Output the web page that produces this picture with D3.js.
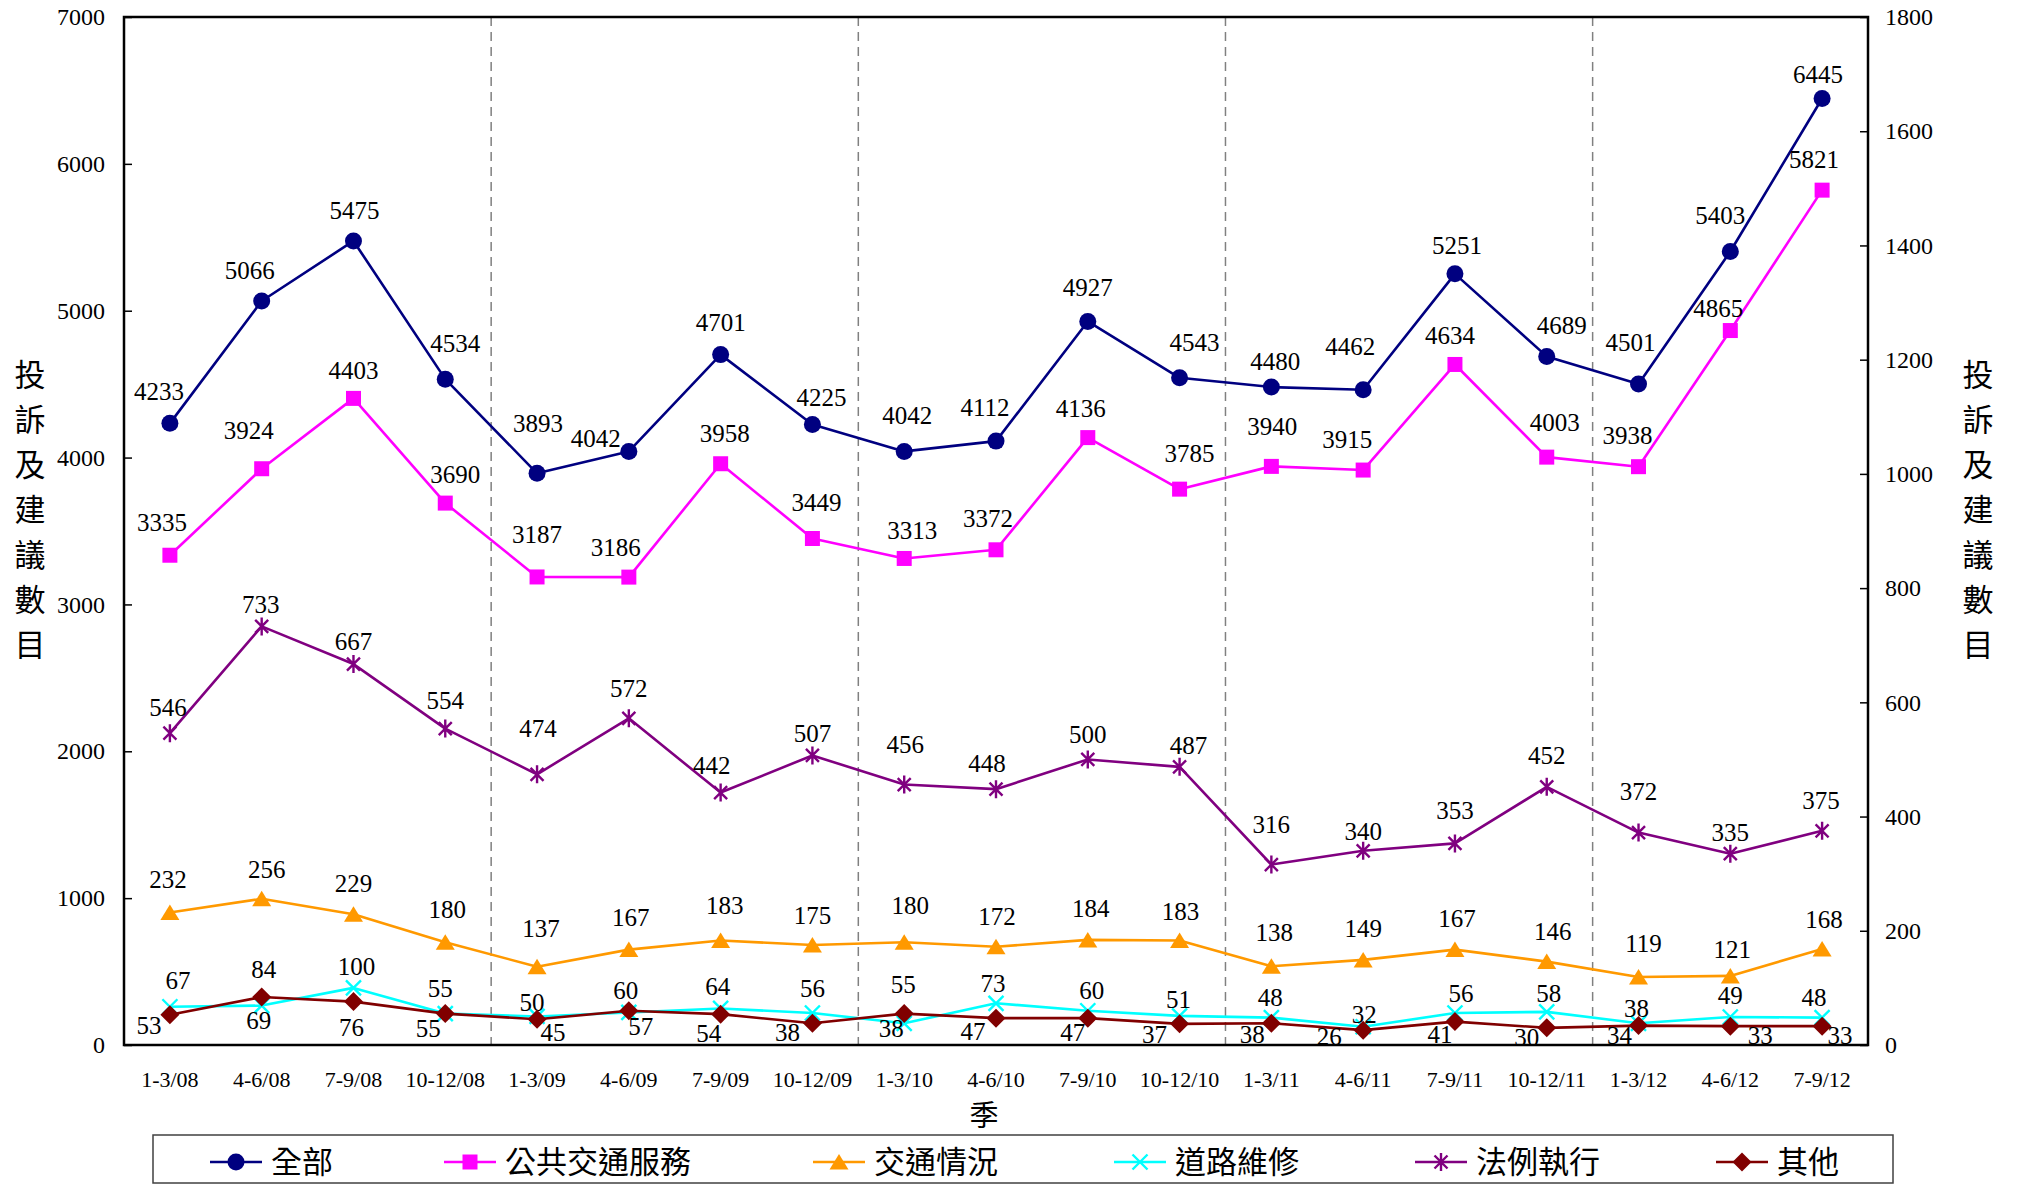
<!DOCTYPE html>
<html>
<head>
<meta charset="utf-8">
<script src="https://cdn.jsdelivr.net/npm/d3@7"></script>
<style>
  html, body { margin: 0; padding: 0; background: #ffffff; }
  svg { display: block; }
</style>
</head>
<body>
<svg id="chart" width="2017" height="1184"></svg>
<script>
// ---- data ----
const quarters = ["1-3/08", "4-6/08", "7-9/08", "10-12/08",
                  "1-3/09", "4-6/09", "7-9/09", "10-12/09",
                  "1-3/10", "4-6/10", "7-9/10", "10-12/10",
                  "1-3/11", "4-6/11", "7-9/11", "10-12/11",
                  "1-3/12", "4-6/12", "7-9/12"];

const seriesNames = ["全部", "公共交通服務", "交通情況", "道路維修", "法例執行", "其他"];

const allCases       = [4233, 5066, 5475, 4534, 3893, 4042, 4701, 4225, 4042, 4112, 4927, 4543, 4480, 4462, 5251, 4689, 4501, 5403, 6445];
const publicTransport = [3335, 3924, 4403, 3690, 3187, 3186, 3958, 3449, 3313, 3372, 4136, 3785, 3940, 3915, 4634, 4003, 3938, 4865, 5821];
const trafficCond    = [232, 256, 229, 180, 137, 167, 183, 175, 180, 172, 184, 183, 138, 149, 167, 146, 119, 121, 168];
const roadMaint      = [67, 69, 100, 55, 50, 57, 64, 56, 38, 73, 60, 51, 48, 32, 56, 58, 38, 49, 48];
const enforcement    = [546, 733, 667, 554, 474, 572, 442, 507, 456, 448, 500, 487, 316, 340, 353, 452, 372, 335, 375];
const others         = [53, 84, 76, 55, 45, 60, 54, 38, 55, 47, 47, 37, 38, 26, 41, 30, 34, 33, 33];

const leftTicks  = [0, 1000, 2000, 3000, 4000, 5000, 6000, 7000];
const rightTicks = [0, 200, 400, 600, 800, 1000, 1200, 1400, 1600, 1800];

const yTitle = "投訴及建議數目";
const xTitle = "季";

// ---- label nudges (px, relative to each point) ----
const nudgeAll = [[-11,-32],[-12,-31],[1,-31],[10,-36],[1,-50],[-33,-13],[0,-32],[9,-27],[3,-36],[-11,-34],
                  [0,-34],[15,-36],[4,-26],[-13,-43],[2,-29],[15,-31],[-8,-42],[-10,-36],[-4,-24]];
const nudgePT  = [[-8,-33],[-13,-38],[0,-28],[10,-29],[0,-43],[-13,-30],[4,-30],[4,-36],[8,-28],[-8,-32],
                  [-7,-29],[10,-36],[1,-40],[-16,-31],[-5,-29],[8,-35],[-11,-31],[-12,-22],[-8,-31]];
const nudgeTC  = [[-2,-33],[5,-30],[0,-31],[2,-33],[4,-39],[2,-32],[4,-35],[0,-30],[6,-37],[1,-31],
                  [3,-32],[1,-29],[3,-34],[0,-32],[2,-31],[6,-30],[5,-34],[2,-27],[2,-30]];
const nudgeRM  = [[8,-26],[-3,15],[3,-22],[-5,-25],[-5,-14],[12,14],[-3,-22],[0,-25],[-13,5],[-3,-20],
                  [4,-20],[-1,-17],[-1,-20],[1,-12],[6,-20],[2,-19],[-2,-15],[0,-22],[-8,-20]];
const nudgeEN  = [[-2,-26],[-1,-22],[0,-23],[0,-28],[1,-46],[0,-30],[-9,-27],[0,-22],[1,-40],[-9,-26],
                  [0,-25],[9,-22],[0,-40],[0,-20],[0,-33],[0,-32],[0,-41],[0,-21],[-1,-31]];
const nudgeOT  = [[-21,11],[2,-28],[-2,26],[-17,15],[16,13],[-3,-20],[-12,19],[-25,9],[-1,-29],[-23,13],
                  [-15,14],[-25,10],[-19,11],[-34,6],[-15,13],[-20,9],[-19,10],[30,9],[18,9]];

// ---- layout ----
const plot = { left: 124, right: 1868, top: 17, bottom: 1045 };
const serif = "'Liberation Serif', 'Times New Roman', serif";
const cjk = "'Noto Sans CJK TC', 'Noto Sans CJK SC', sans-serif";

const svg = d3.select("#chart");

const x = d3.scaleBand().domain(quarters).range([plot.left, plot.right]).padding(0);
const cx = q => x(q) + x.bandwidth() / 2;
const yL = d3.scaleLinear().domain([0, 7000]).range([plot.bottom, plot.top]);
const yR = d3.scaleLinear().domain([0, 1800]).range([plot.bottom, plot.top]);

// marker shapes, centred on the point
const markers = {
  circle:   { d: d3.symbol(d3.symbolCircle, Math.PI * 8.5 * 8.5)(), fill: true },
  square:   { d: "M-7.5,-7.5H7.5V7.5H-7.5Z", fill: true },
  triangle: { d: "M0,-8L9.5,7.5H-9.5Z", fill: true },
  cross:    { d: "M-7.5,-7.5L7.5,7.5M7.5,-7.5L-7.5,7.5", fill: false },
  asterisk: { d: "M-6.5,-6.5L6.5,6.5M6.5,-6.5L-6.5,6.5M0,-9V9", fill: false },
  diamond:  { d: "M0,-9.5L9.5,0L0,9.5L-9.5,0Z", fill: true }
};

const series = [
  { name: seriesNames[0], values: allCases,        y: yL, color: "#000080", marker: "circle",   nudge: nudgeAll },
  { name: seriesNames[1], values: publicTransport, y: yL, color: "#FF00FF", marker: "square",   nudge: nudgePT },
  { name: seriesNames[2], values: trafficCond,     y: yR, color: "#FF9900", marker: "triangle", nudge: nudgeTC },
  { name: seriesNames[3], values: roadMaint,       y: yR, color: "#00FFFF", marker: "cross",    nudge: nudgeRM },
  { name: seriesNames[4], values: enforcement,     y: yR, color: "#800080", marker: "asterisk", nudge: nudgeEN },
  { name: seriesNames[5], values: others,          y: yR, color: "#800000", marker: "diamond",  nudge: nudgeOT }
];

// year separators (dashed)
svg.append("g").selectAll("line")
  .data(quarters.filter((q, i) => i > 0 && q.startsWith("1-3/")))
  .join("line")
  .attr("x1", q => x(q)).attr("x2", q => x(q))
  .attr("y1", plot.top).attr("y2", plot.bottom)
  .attr("stroke", "#808080").attr("stroke-width", 1.5)
  .attr("stroke-dasharray", "9,6");

// left axis
const gL = svg.append("g")
  .attr("transform", `translate(${plot.left},0)`)
  .call(d3.axisLeft(yL).tickValues(leftTicks).tickSize(-8).tickPadding(19).tickFormat(d3.format("d")));
gL.select(".domain").remove();
gL.selectAll(".tick line").attr("stroke", "#000").attr("stroke-width", 1.5);
gL.selectAll(".tick text").attr("font-family", serif).attr("font-size", 24).attr("fill", "#000");

// right axis
const gR = svg.append("g")
  .attr("transform", `translate(${plot.right},0)`)
  .call(d3.axisRight(yR).tickValues(rightTicks).tickSize(-8).tickPadding(17).tickFormat(d3.format("d")));
gR.select(".domain").remove();
gR.selectAll(".tick line").attr("stroke", "#000").attr("stroke-width", 1.5);
gR.selectAll(".tick text").attr("font-family", serif).attr("font-size", 24).attr("fill", "#000");

// category axis
const gB = svg.append("g")
  .attr("transform", `translate(0,${plot.bottom})`)
  .call(d3.axisBottom(x).tickSize(0).tickPadding(0));
gB.select(".domain").remove();
gB.selectAll(".tick text")
  .attr("y", 34).attr("dy", "0.35em")
  .attr("font-family", serif).attr("font-size", 22).attr("fill", "#000");

// plot frame
svg.append("rect")
  .attr("x", plot.left).attr("y", plot.top)
  .attr("width", plot.right - plot.left).attr("height", plot.bottom - plot.top)
  .attr("fill", "none").attr("stroke", "#000").attr("stroke-width", 2.5);

// series lines, markers and value labels
series.forEach(s => {
  const g = svg.append("g");
  const line = d3.line().x((v, i) => cx(quarters[i])).y(v => s.y(v));
  g.append("path").datum(s.values)
    .attr("d", line).attr("fill", "none")
    .attr("stroke", s.color).attr("stroke-width", 2.6).attr("stroke-linejoin", "round");
  const m = markers[s.marker];
  g.selectAll("path.mk").data(s.values).join("path")
    .attr("class", "mk")
    .attr("transform", (v, i) => `translate(${cx(quarters[i])},${s.y(v)})`)
    .attr("d", m.d)
    .attr("fill", m.fill ? s.color : "none")
    .attr("stroke", s.color).attr("stroke-width", m.fill ? 0 : 2.4);
  g.selectAll("text").data(s.values).join("text")
    .attr("x", (v, i) => cx(quarters[i]) + s.nudge[i][0])
    .attr("y", (v, i) => s.y(v) + s.nudge[i][1])
    .attr("dy", "0.35em")
    .attr("text-anchor", "middle")
    .attr("font-family", serif).attr("font-size", 25).attr("fill", "#000")
    .text(v => v);
});

// axis titles (vertical stacked characters)
[30, 1978].forEach(tx => {
  svg.append("g").selectAll("text")
    .data(Array.from(yTitle))
    .join("text")
    .attr("x", tx).attr("y", (c, i) => 375 + i * 45)
    .attr("dy", "0.35em").attr("text-anchor", "middle")
    .attr("font-family", cjk).attr("font-size", 31).attr("fill", "#000")
    .text(c => c);
});

svg.append("text")
  .attr("x", 984).attr("y", 1116).attr("dy", "0.35em").attr("text-anchor", "middle")
  .attr("font-family", cjk).attr("font-size", 29).attr("fill", "#000")
  .text(xTitle);

// legend
const legendBox = { x: 153, y: 1135, w: 1740, h: 48 };
svg.append("rect")
  .attr("x", legendBox.x).attr("y", legendBox.y)
  .attr("width", legendBox.w).attr("height", legendBox.h)
  .attr("fill", "#fff").attr("stroke", "#404040").attr("stroke-width", 1.5);

const legendStarts = [210, 444, 813, 1114, 1415, 1716];
const legendY = 1162;
series.forEach((s, i) => {
  const g = svg.append("g").attr("transform", `translate(${legendStarts[i]},${legendY})`);
  g.append("line").attr("x1", 0).attr("x2", 52).attr("y1", 0).attr("y2", 0)
    .attr("stroke", s.color).attr("stroke-width", 2.6);
  const m = markers[s.marker];
  g.append("path").attr("transform", "translate(26,0)").attr("d", m.d)
    .attr("fill", m.fill ? s.color : "none")
    .attr("stroke", s.color).attr("stroke-width", m.fill ? 0 : 2.4);
  g.append("text").attr("x", 61).attr("y", 0).attr("dy", "0.35em")
    .attr("font-family", cjk).attr("font-size", 31).attr("fill", "#000")
    .text(s.name);
});
</script>
</body>
</html>
